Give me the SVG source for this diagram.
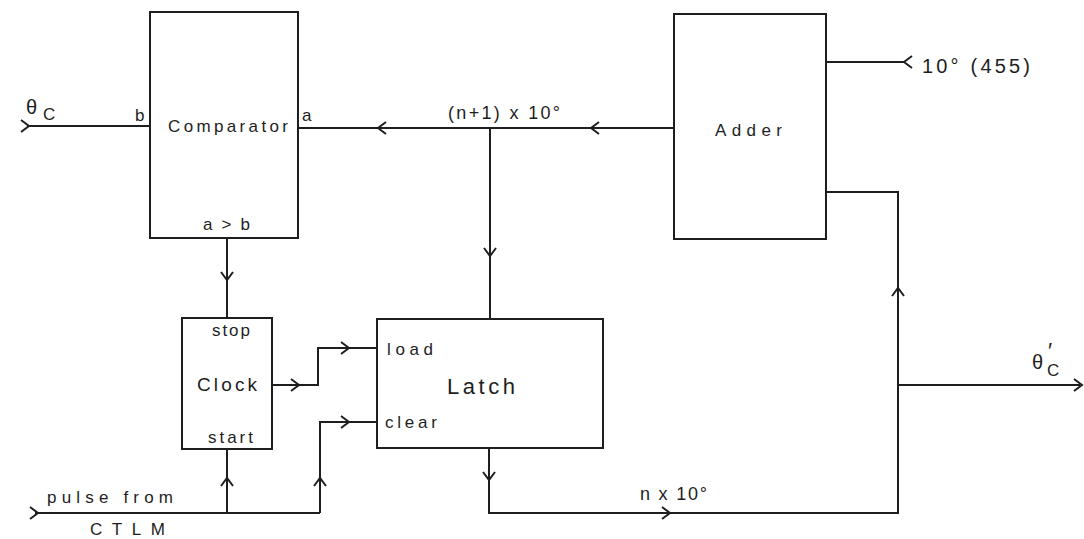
<svg xmlns="http://www.w3.org/2000/svg" xmlns:xlink="http://www.w3.org/1999/xlink" width="1084" height="539" viewBox="0 0 1084 539">
<style>
.box{fill:none;stroke:#1e1e1e;stroke-width:2}
.ln{fill:none;stroke:#1e1e1e;stroke-width:2}
.ch{fill:none;stroke:#1e1e1e;stroke-width:2;stroke-linejoin:miter}
text{font-family:"Liberation Sans","Open Sans",sans-serif;fill:#1e1e1e}
.t{font-size:17px}
.big{font-size:22px}
</style>
<defs>
<path id="chev" d="M-6,-6 L2,0 L-6,6"/>
</defs>
<rect width="1084" height="539" fill="#ffffff"/>

<g id="comparator">
<rect class="box" x="150" y="12" width="148" height="226"/>
<text class="t" x="168" y="132" textLength="120" lengthAdjust="spacing">Comparator</text>
<text class="t" x="135" y="121">b</text>
<text class="t" x="302" y="121">a</text>
<text class="t" x="203" y="230" textLength="47" lengthAdjust="spacing">a&gt;b</text>
</g>

<g id="adder">
<rect class="box" x="674" y="14" width="152" height="225"/>
<text class="t" x="715" y="136" textLength="67" lengthAdjust="spacing">Adder</text>
</g>

<g id="clock">
<rect class="box" x="182" y="318" width="90" height="131"/>
<text class="t" x="212" y="336" textLength="38" lengthAdjust="spacing">stop</text>
<text class="t" x="197" y="391" textLength="60" lengthAdjust="spacing" style="font-size:19px">Clock</text>
<text class="t" x="208" y="443" textLength="45" lengthAdjust="spacing">start</text>
</g>

<g id="latch">
<rect class="box" x="377" y="319" width="226" height="129"/>
<text class="t" x="387" y="355" textLength="46" lengthAdjust="spacing">load</text>
<text class="big" x="447" y="394" textLength="68" lengthAdjust="spacing">Latch</text>
<text class="t" x="385" y="428" textLength="52" lengthAdjust="spacing">clear</text>
</g>

<g id="connectors">
<path class="ln" d="M27,126 L150,126"/>
<use xlink:href="#chev" class="ch" transform="translate(27,126)"/>
<path class="ln" d="M674,128 L298,128"/>
<use xlink:href="#chev" class="ch" transform="translate(593,128) rotate(180)"/>
<use xlink:href="#chev" class="ch" transform="translate(380,128) rotate(180)"/>
<path class="ln" d="M490,128 L490,319"/>
<use xlink:href="#chev" class="ch" transform="translate(490,254) rotate(90)"/>
<path class="ln" d="M227,238 L227,318"/>
<use xlink:href="#chev" class="ch" transform="translate(227,278) rotate(90)"/>
<path class="ln" d="M272,385 L318,385 L318,348 L377,348"/>
<use xlink:href="#chev" class="ch" transform="translate(297,385)"/>
<use xlink:href="#chev" class="ch" transform="translate(347,348)"/>
<path class="ln" d="M35,513 L320,513"/>
<use xlink:href="#chev" class="ch" transform="translate(36,513)"/>
<path class="ln" d="M227,513 L227,449"/>
<use xlink:href="#chev" class="ch" transform="translate(227,480) rotate(-90)"/>
<path class="ln" d="M320,513 L320,422 L377,422"/>
<use xlink:href="#chev" class="ch" transform="translate(320,480) rotate(-90)"/>
<use xlink:href="#chev" class="ch" transform="translate(347,422)"/>
<path class="ln" d="M489,448 L489,513 L898,513 L898,192 L826,192"/>
<use xlink:href="#chev" class="ch" transform="translate(489,478) rotate(90)"/>
<use xlink:href="#chev" class="ch" transform="translate(668,513)"/>
<use xlink:href="#chev" class="ch" transform="translate(898,290) rotate(-90)"/>
<path class="ln" d="M898,385 L1080,385"/>
<use xlink:href="#chev" class="ch" transform="translate(1080,385)"/>
<path class="ln" d="M826,62 L905,62"/>
<use xlink:href="#chev" class="ch" transform="translate(906,62) rotate(180)"/>
</g>

<g id="labels">
<text x="26" y="114" style="font-size:20px">θ<tspan x="43" y="120" style="font-size:17px">C</tspan></text>
<text x="448" y="119" textLength="112" lengthAdjust="spacing" style="font-size:18px">(n+1) x 10°</text>
<text x="922" y="73" textLength="108" lengthAdjust="spacing" style="font-size:20px">10° (455)</text>
<text x="1032" y="369" style="font-size:20px">θ<tspan x="1047" y="376" style="font-size:17px">C</tspan></text>
<text x="1048" y="358" style="font-size:22px">′</text>
<text class="t" x="47" y="503" textLength="126" lengthAdjust="spacing">pulse from</text>
<text class="t" x="90" y="535" textLength="75" lengthAdjust="spacing">CTLM</text>
<text x="640" y="500" textLength="67" lengthAdjust="spacing" style="font-size:18px">n x 10°</text>
</g>
</svg>
